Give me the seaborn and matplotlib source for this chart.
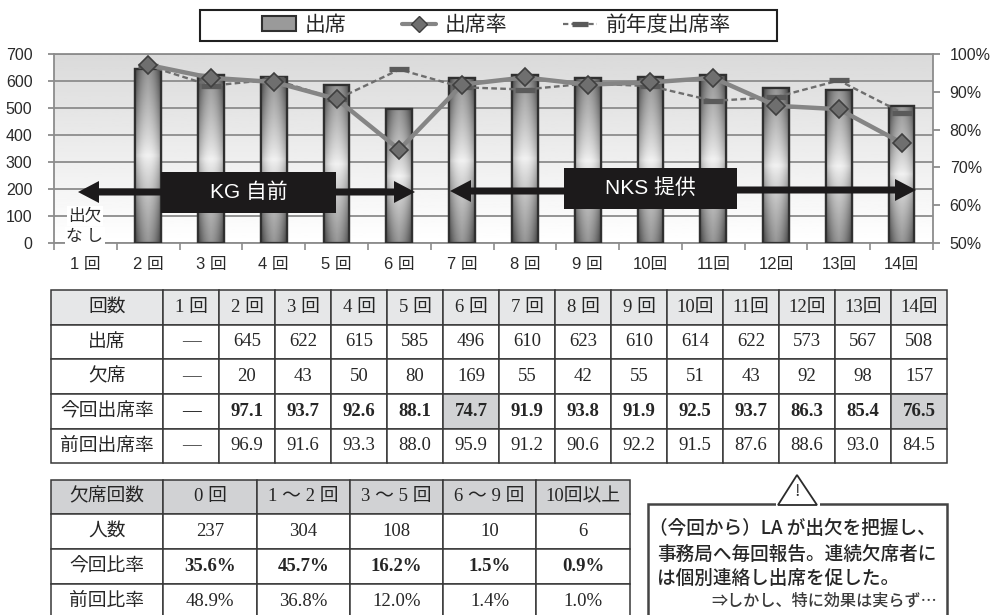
import numpy as np
import pandas as pd
import matplotlib
matplotlib.use("Agg")
import matplotlib.pyplot as plt
from matplotlib.lines import Line2D
from matplotlib.patches import Patch, Rectangle, Polygon, FancyArrow
import seaborn as sns

sessions = ["1 回", "2 回", "3 回", "4 回", "5 回", "6 回", "7 回", "8 回", "9 回", "10回", "11回", "12回", "13回", "14回"]
attended = [np.nan, 645, 622, 615, 585, 496, 610, 623, 610, 614, 622, 573, 567, 508]
absent = [None, 20, 43, 50, 80, 169, 55, 42, 55, 51, 43, 92, 98, 157]
rate_now = [np.nan, 97.1, 93.7, 92.6, 88.1, 74.7, 91.9, 93.8, 91.9, 92.5, 93.7, 86.3, 85.4, 76.5]
rate_prev = [np.nan, 96.9, 91.6, 93.3, 88.0, 95.9, 91.2, 90.6, 92.2, 91.5, 87.6, 88.6, 93.0, 84.5]

absence_bins = ["0 回", "1 〜 2 回", "3 〜 5 回", "6 〜 9 回", "10回以上"]
people = ["237", "304", "108", "10", "6"]
share_now = ["35.6%", "45.7%", "16.2%", "1.5%", "0.9%"]
share_prev = ["48.9%", "36.8%", "12.0%", "1.4%", "1.0%"]

W, H = 993, 615
SANS = ["Liberation Sans", "Noto Sans CJK JP", "DejaVu Sans"]
SERIF = ["Liberation Serif", "Noto Sans CJK JP", "DejaVu Sans"]
GOTHIC = ["Noto Sans CJK JP", "DejaVu Sans"]
GRID = "#8c8c8c"

sns.set_theme(style="white")
plt.rcParams["font.family"] = SANS
plt.rcParams["axes.unicode_minus"] = False

fig = plt.figure(figsize=(W / 100, H / 100), dpi=100, facecolor="white")


def frac_box(x0, y0, x1, y1):
    return [x0 / W, 1 - y1 / H, (x1 - x0) / W, (y1 - y0) / H]


ax = fig.add_axes(frac_box(54, 54, 933, 243))
df = pd.DataFrame({"session": sessions, "attended": attended})

# Plot background fades from grey at the top to white at the bottom
bg = np.linspace(0.855, 1.0, 128).reshape(-1, 1)
ax.imshow(bg, cmap="gray", vmin=0, vmax=1, aspect="auto", extent=(0, 1, 0, 1),
          transform=ax.transAxes, zorder=0)

sns.barplot(data=df, x="session", y="attended", ax=ax, width=0.41, color="#8c8c8c",
            edgecolor="#303030", linewidth=1.6, zorder=3)
ax.set_xlim(-0.5, 13.5)
ax.set_ylim(0, 700)
ax.set_aspect("auto")

# Cylinder-like shading on each bar: dark rims, bright middle
u = np.linspace(-1, 1, 64)
v = np.linspace(-1, 1, 128)
uu, vv = np.meshgrid(u, v)
shade = 0.95 - 0.36 * np.abs(vv) ** 0.8 - 0.24 * np.abs(uu) ** 2.2 - 0.10 * np.abs(uu * vv)
for bar in ax.patches:
    if not np.isfinite(bar.get_height()) or bar.get_height() == 0:
        continue
    x0, w, h = bar.get_x(), bar.get_width(), bar.get_height()
    im = ax.imshow(shade, cmap="gray", vmin=0, vmax=1, aspect="auto",
                   extent=(x0, x0 + w, 0, h), zorder=3.2)
    im.set_clip_path(Rectangle((x0, 0), w, h, transform=ax.transData))
    ax.add_patch(Rectangle((x0, 0), w, h, fill=False, edgecolor="#303030", linewidth=1.6, zorder=3.4))
ax.set_xlim(-0.5, 13.5)
ax.set_ylim(0, 700)

ax.set_xlabel("")
ax.set_ylabel("")
ax.set_yticks(range(0, 701, 100))
ax.yaxis.grid(True, color=GRID, linewidth=1.3, zorder=1)
ax.set_axisbelow(True)
ax.set_xticks(range(14), sessions)
ax.set_xticks(np.arange(-0.5, 14), minor=True)
ax.tick_params(axis="x", which="major", length=0, pad=10, labelsize=12, labelcolor="#2a2a2a")
ax.tick_params(axis="x", which="minor", length=5, width=1.2, color=GRID, bottom=True)
ax.tick_params(axis="y", length=4.5, width=1.3, color=GRID, labelsize=11.5, labelcolor="#2a2a2a", pad=11, left=True)
for spine in ax.spines.values():
    spine.set_color(GRID)
    spine.set_linewidth(1.3)
    spine.set_visible(True)

ax2 = ax.twinx()
ax2.set_ylim(50, 100)
ax2.set_yticks(range(50, 101, 10), [f"{v}%" for v in range(50, 101, 10)])
ax2.tick_params(axis="y", length=5, width=1.3, color=GRID, labelsize=11.5, labelcolor="#2a2a2a", pad=7, right=True)
ax2.grid(False)
for spine in ax2.spines.values():
    spine.set_visible(False)
ax2.set_ylabel("")

positions = np.arange(14)
sns.lineplot(x=positions[1:], y=rate_prev[1:], ax=ax2, color="#6e6e6e", linewidth=1.7,
             linestyle=(0, (2.4, 1.4)), marker="_", markersize=14, markeredgewidth=3.8,
             markeredgecolor="#5a5a5a", errorbar=None, legend=False, zorder=5)
sns.lineplot(x=positions[1:], y=rate_now[1:], ax=ax2, color="#858585", linewidth=3.2,
             marker="D", markersize=9.5, markerfacecolor="#6f6f6f", markeredgecolor="#3f3f3f",
             markeredgewidth=1.2, errorbar=None, legend=False, zorder=6)
ax2.set_xlim(-0.5, 13.5)

legend_handles = [
    Patch(facecolor="#9a9a9a", edgecolor="#303030", linewidth=1.5),
    Line2D([], [], color="#858585", linewidth=3, marker="D", markersize=8,
           markerfacecolor="#6f6f6f", markeredgecolor="#3f3f3f"),
    Line2D([], [], color="#6e6e6e", linewidth=1.6, linestyle=(0, (2.4, 1.4)), marker="_",
           markersize=12, markeredgewidth=3.8, markeredgecolor="#5a5a5a"),
]
legend = fig.legend(legend_handles, ["出席", "出席率", "前年度出席率"], ncols=3,
                    loc="center", bbox_to_anchor=(496.5 / W, 1 - 25 / H),
                    prop={"family": GOTHIC, "size": 15}, frameon=False,
                    columnspacing=2.64, handlelength=1.65, handletextpad=0.43,
                    borderpad=0, borderaxespad=0)
for txt in legend.get_texts():
    txt.set_color("#262626")

# Everything below is laid out in pixel units on one full-figure layer
ov = fig.add_axes([0, 0, 1, 1], facecolor="none", zorder=10)
ov.set_xlim(0, W)
ov.set_ylim(H, 0)
ov.axis("off")

# Frame around the legend
ov.add_patch(Rectangle((200, 9.5), 577, 31.5, fill=False, edgecolor="#202020", linewidth=1.5))

INK = "#2b2b2b"
for x0, x1, y in [(246, 78, 192), (300, 415, 192), (600, 450, 191), (700, 916, 190)]:
    ov.add_patch(FancyArrow(x0, y, x1 - x0, 0, width=7, head_width=22, head_length=21,
                            length_includes_head=True, facecolor="#1c1a1b", edgecolor="none"))
for x0, y0, x1, y1, label in [(161, 172, 336, 213, "KG 自前"), (564, 168, 737, 209, "NKS 提供")]:
    ov.add_patch(Rectangle((x0, y0), x1 - x0, y1 - y0, facecolor="#1c1a1b", edgecolor="none"))
    ov.text((x0 + x1) / 2, (y0 + y1) / 2, label, color="white", fontsize=15, ha="center",
            va="center", family=SANS)
for y, label in [(216, "出欠"), (237, "な し")]:
    ov.text(85, y, label, fontsize=12, ha="center", va="center", color=INK, family=GOTHIC,
            bbox=dict(facecolor="white", edgecolor="none", pad=1))


def draw_table(x_edges, y_edges, rows, fills, bold_rows=()):
    for r, row in enumerate(rows):
        for c, label in enumerate(row):
            fill = fills.get((r, c), "white")
            ov.add_patch(Rectangle((x_edges[c], y_edges[r]), x_edges[c + 1] - x_edges[c],
                                   y_edges[r + 1] - y_edges[r], facecolor=fill,
                                   edgecolor="#383838", linewidth=1.1, clip_on=True))
            ov.text((x_edges[c] + x_edges[c + 1]) / 2, (y_edges[r] + y_edges[r + 1]) / 2, label,
                    ha="center", va="center", fontsize=13.5, color="#262626", family=SERIF,
                    fontweight="bold" if r in bold_rows and c > 0 else "normal")


def fmt(values, pattern):
    return ["—" if v is None or (isinstance(v, float) and np.isnan(v)) else pattern.format(v) for v in values]


HEAD1, HEAD2 = "#e6e7e8", "#d1d2d4"
table1_x = [51, 163, 219, 275, 331, 387, 443, 499, 555, 611, 667, 723, 779, 835, 891, 947]
table1_y = [290, 325, 359, 394, 429, 463]
table1 = [
    ["回数"] + sessions,
    ["出席"] + fmt(attended, "{:.0f}"),
    ["欠席"] + fmt(absent, "{}"),
    ["今回出席率"] + fmt(rate_now, "{:.1f}"),
    ["前回出席率"] + fmt(rate_prev, "{:.1f}"),
]
fills1 = {(0, c): HEAD1 for c in range(15)}
fills1[(3, 6)] = HEAD2
fills1[(3, 14)] = HEAD2
draw_table(table1_x, table1_y, table1, fills1, bold_rows=(3,))

table2_x = [51, 163, 257, 350, 443, 536, 630]
table2_y = [480, 514, 549, 584, 618]
table2 = [
    ["欠席回数"] + absence_bins,
    ["人数"] + people,
    ["今回比率"] + share_now,
    ["前回比率"] + share_prev,
]
fills2 = {(0, c): HEAD2 for c in range(6)}
draw_table(table2_x, table2_y, table2, fills2, bold_rows=(2,))

# Note box with a warning triangle breaking its top edge
ov.add_patch(Rectangle((648, 504), 299, 120, facecolor="white", edgecolor="#444444", linewidth=1.8))
ov.add_patch(Rectangle((776, 500), 44, 8, facecolor="white", edgecolor="none"))
ov.add_patch(Polygon([(797, 475), (778, 505), (817, 505)], closed=True, facecolor="white",
                     edgecolor="#2b2b2b", linewidth=1.3))
ov.text(797, 492, "!", fontsize=12, ha="center", va="center", color="#2b2b2b", family=GOTHIC)
for x, y, line in [(649, 529, "（今回から）LA が出欠を把握し、"), (657, 554, "事務局へ毎回報告。連続欠席者に"),
                   (657, 578, "は個別連絡し出席を促した。")]:
    ov.text(x, y, line, fontsize=13.4, ha="left", va="center", color="#262626",
            family=GOTHIC, fontweight="medium")
ov.text(937, 601, "⇒しかし、特に効果は実らず…", fontsize=11.6, ha="right", va="center",
        color="#3a3a3a", family=GOTHIC, fontweight="medium")

fig.savefig("out.png", dpi=100)
